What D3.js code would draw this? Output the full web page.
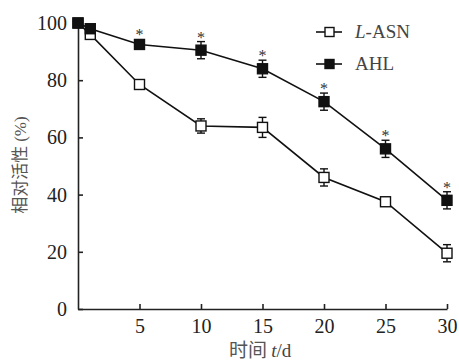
<!DOCTYPE html>
<html>
<head>
<meta charset="utf-8">
<script src="https://cdn.jsdelivr.net/npm/d3@7"></script>
<style>
  body { margin: 0; background: #fff; }
  svg text { font-family: "Liberation Serif", "Times New Roman", serif; fill: #222; }
  svg .cjk { font-family: "Noto Sans CJK SC", sans-serif; fill: #555; }
</style>
</head>
<body>
<div id="chart"></div>
<script>
const days = [0, 1, 5, 10, 15, 20, 25, 30];
const asnValues = [100, 96, 78.5, 64, 63.5, 46, 37.5, 19.5];
const asnErrors = [0, 0, 0.8, 2.5, 3.5, 3, 1, 3];
const ahlValues = [100, 98, 92.5, 90.5, 84, 72.5, 56, 38];
const ahlErrors = [0, 0, 1, 3, 3, 3, 3, 3];
const starDays = [5, 10, 15, 20, 25, 30];
const xTicks = [5, 10, 15, 20, 25, 30];
const yTicks = [0, 20, 40, 60, 80, 100];

const width = 459, height = 361;
const serif = "'Liberation Serif', 'Times New Roman', serif";
const svg = d3.select("#chart").append("svg")
    .attr("width", width)
    .attr("height", height);

const x = d3.scaleLinear().domain([0, 30]).range([78, 447]);
const y = d3.scaleLinear().domain([0, 100]).range([309, 23]);

// axes, ticks pointing inward
const xAxis = svg.append("g")
    .attr("transform", `translate(0,${y(0)})`)
    .call(d3.axisBottom(x).tickValues(xTicks).tickSizeInner(-5).tickSizeOuter(0).tickPadding(10));
const yAxis = svg.append("g")
    .attr("transform", `translate(${x(0)},0)`)
    .call(d3.axisLeft(y).tickValues(yTicks).tickSizeInner(-5).tickSizeOuter(0).tickPadding(11));

[xAxis, yAxis].forEach(a => {
    a.attr("font-family", null);
    a.select(".domain").attr("stroke", "#222").attr("stroke-width", 1.6);
    a.selectAll(".tick line").attr("stroke", "#222").attr("stroke-width", 1.6);
    a.selectAll(".tick text")
        .style("font-family", serif)
        .style("font-size", "20px")
        .style("fill", "#222");
});

// axis titles
svg.append("text")
    .attr("transform", `translate(26,165) rotate(-90)`)
    .attr("text-anchor", "middle")
    .style("font-size", "17px")
    .call(t => {
        t.append("tspan").attr("class", "cjk").text("相对活性 ");
        t.append("tspan").style("fill", "#555").text("(%)");
    });

svg.append("text")
    .attr("x", 229)
    .attr("y", 357)
    .style("font-size", "19px")
    .call(t => {
        t.append("tspan").attr("class", "cjk").text("时间 ");
        t.append("tspan").attr("font-style", "italic").style("fill", "#444").text("t");
        t.append("tspan").style("fill", "#444").text("/d");
    });

function series(values, errors, fill) {
    const pts = days.map((d, i) => ({day: d, v: values[i], e: errors[i]}));
    const line = d3.line().x(d => x(d.day)).y(d => y(d.v));
    svg.append("path")
        .datum(pts)
        .attr("d", line)
        .attr("fill", "none")
        .attr("stroke", "#111")
        .attr("stroke-width", 1.6);

    const g = svg.append("g");
    pts.filter(d => d.e > 0).forEach(d => {
        g.append("line")
            .attr("x1", x(d.day)).attr("x2", x(d.day))
            .attr("y1", y(d.v + d.e)).attr("y2", y(d.v - d.e))
            .attr("stroke", "#111").attr("stroke-width", 1.4);
        [d.v + d.e, d.v - d.e].forEach(v => {
            g.append("line")
                .attr("x1", x(d.day) - 4).attr("x2", x(d.day) + 4)
                .attr("y1", y(v)).attr("y2", y(v))
                .attr("stroke", "#111").attr("stroke-width", 1.4);
        });
    });

    const s = 10;
    g.selectAll("rect").data(pts).enter().append("rect")
        .attr("x", d => x(d.day) - s / 2)
        .attr("y", d => y(d.v) - s / 2)
        .attr("width", s)
        .attr("height", s)
        .attr("fill", fill)
        .attr("stroke", "#111")
        .attr("stroke-width", 1.4);
    return pts;
}

series(asnValues, asnErrors, "#fff");
const ahlPts = series(ahlValues, ahlErrors, "#111");

// significance stars
svg.selectAll(".star").data(ahlPts.filter(d => starDays.includes(d.day))).enter()
    .append("text")
    .attr("class", "star")
    .attr("x", d => x(d.day))
    .attr("y", d => Math.min(y(d.v + d.e), y(d.v) - 5) + 1)
    .attr("text-anchor", "middle")
    .style("font-size", "16px")
    .style("fill", "#333")
    .text("*");

// legend
const legend = [
    {label: "ASN", prefix: "L", fill: "#fff"},
    {label: "AHL", prefix: null, fill: "#111"}
];
legend.forEach((d, i) => {
    const ly = 32 + i * 32;
    svg.append("line")
        .attr("x1", 316).attr("x2", 342)
        .attr("y1", ly).attr("y2", ly)
        .attr("stroke", "#111").attr("stroke-width", 1.6);
    svg.append("rect")
        .attr("x", 325).attr("y", ly - 4.5)
        .attr("width", 9).attr("height", 9)
        .attr("fill", d.fill)
        .attr("stroke", "#111").attr("stroke-width", 1.4);
    const t = svg.append("text")
        .attr("x", 355).attr("y", ly + 6)
        .style("font-size", "19px")
        .style("fill", "#444");
    if (d.prefix) {
        t.append("tspan").attr("font-style", "italic").text(d.prefix);
        t.append("tspan").text("-" + d.label);
    } else {
        t.text(d.label);
    }
});
</script>
</body>
</html>
